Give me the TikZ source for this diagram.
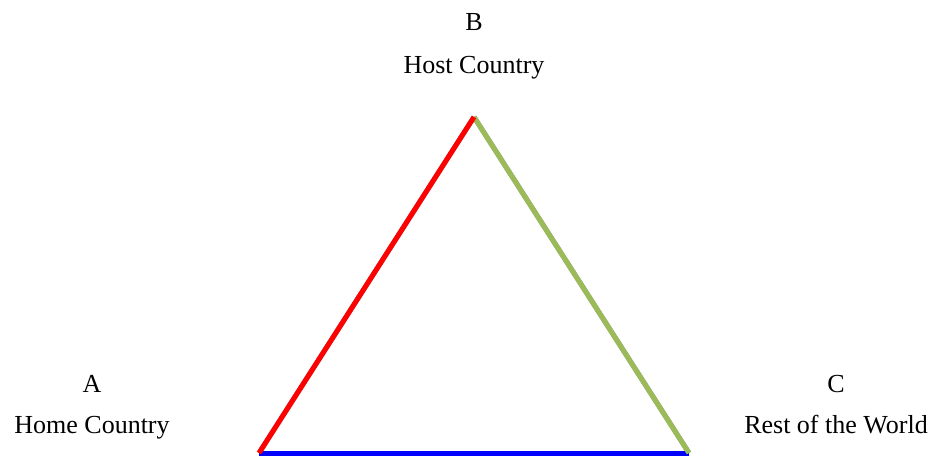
\documentclass[tikz,border=0pt]{standalone}
\usepackage{fontspec}
\setmainfont{Liberation Serif}
\definecolor{olive}{HTML}{9BBB59}

\begin{document}
\begin{tikzpicture}[x=1pt, y=1pt, every node/.style={font=\fontsize{26}{30}\selectfont, anchor=base}]

    \useasboundingbox (0, 0) rectangle (931, 458);

    % 三角形の頂点
    \coordinate (A) at (259, 5);
    \coordinate (B) at (474, 341);
    \coordinate (C) at (689, 5);

    % 影
    \begin{scope}[shift={(2.5, -2.5)}, line width=5pt, gray!85]
        \draw (A) -- (B);
        \draw (B) -- (C);
        \draw (A) -- (C);
    \end{scope}

    % 辺
    \draw[line width=5pt, blue] (A) -- (C);
    \draw[line width=5pt, olive] (B) -- (C);
    \draw[line width=5pt, red] (A) -- (B);

    % ラベル
    \node (labB) at (474, 427) {B};
    \node (nameB) at (474, 384) {Host Country};
    \node (labA) at (92, 66) {A};
    \node (nameA) at (92, 25) {Home Country};
    \node (labC) at (836, 66) {C};
    \node (nameC) at (836, 25) {Rest of the World};

\end{tikzpicture}
\end{document}
